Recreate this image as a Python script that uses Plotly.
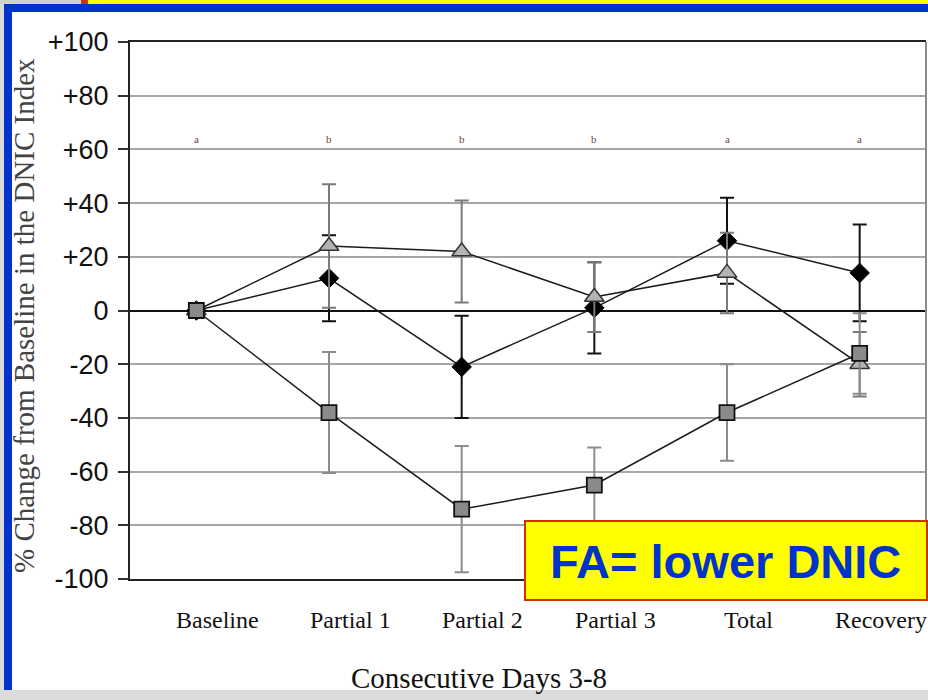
import plotly.graph_objects as go

# Study days on the x axis
days = ["Baseline", "Partial 1", "Partial 2", "Partial 3", "Total", "Recovery"]

# % change from baseline in DNIC index (mean) and error (± SEM) per group
diamond_vals = [0, 12, -21, 1, 26, 14]
diamond_err = [0, 16, 19, 17, 16, 18]

triangle_vals = [0, 24, 22, 5, 14, -20]
triangle_err = [0, 23, 19, 13, 15, 12]

square_vals = [0, -38, -74, -65, -38, -16]
square_err = [0, 22.5, 23.5, 14, 18, 15]

# Significance letters shown above each day
sig_letters = ["a", "b", "b", "b", "a", "a"]
sig_level = 64

y_ticks = [100, 80, 60, 40, 20, 0, -20, -40, -60, -80, -100]
y_tick_text = ["+100", "+80", "+60", "+40", "+20", "0", "-20", "-40", "-60", "-80", "-100"]

W, H = 928, 700
L, R, T, B = 130, 926, 42, 579  # plot-area pixel edges


def px(x):
    return (x - L) / (R - L)


def py(y):
    return (B - y) / (B - T)


fig = go.Figure()

fig.add_trace(go.Scatter(
    x=days, y=diamond_vals, mode="lines+markers",
    line=dict(color="#1a1a1a", width=1.5),
    marker=dict(symbol="diamond", size=15, color="#000000", line=dict(color="#000000", width=1)),
    error_y=dict(type="data", array=diamond_err, color="#111111", thickness=2, width=7),
    showlegend=False,
))
fig.add_trace(go.Scatter(
    x=days, y=triangle_vals, mode="lines+markers",
    line=dict(color="#1a1a1a", width=1.5),
    marker=dict(symbol="triangle-up", size=17, color="#b4b4b4", line=dict(color="#333333", width=1.5)),
    error_y=dict(type="data", array=triangle_err, color="#7a7a7a", thickness=2, width=7),
    showlegend=False,
))
fig.add_trace(go.Scatter(
    x=days, y=square_vals, mode="lines+markers",
    line=dict(color="#1a1a1a", width=1.5),
    marker=dict(symbol="square", size=15, color="#8a8a8a", line=dict(color="#111111", width=1.8)),
    error_y=dict(type="data", array=square_err, color="#8c8c8c", thickness=2, width=7),
    showlegend=False,
))

# significance letters
for d, s in zip(days, sig_letters):
    fig.add_annotation(x=d, y=sig_level, text=s, showarrow=False,
                       font=dict(family="Liberation Serif", size=11, color="#6a4a3a"))

# day labels under the axis (set slightly right of each category)
for d in days:
    fig.add_annotation(x=d, xref="x", yref="paper", y=py(620), text=d, showarrow=False,
                       xanchor="center", yanchor="middle", xshift=21,
                       font=dict(family="Liberation Serif", size=24, color="#111111"))

shapes = []
# darker +20 reference line
shapes.append(dict(type="line", xref="paper", yref="y", x0=0, x1=1, y0=20, y1=20,
                   line=dict(color="#222222", width=1.5), layer="below"))
# right border of plot
shapes.append(dict(type="line", xref="paper", yref="paper", x0=1, x1=1, y0=0, y1=1,
                   line=dict(color="#8a8a8a", width=2)))

# page frame: grey margins, yellow/red strip and blue border
shapes.append(dict(type="rect", xref="paper", yref="paper", x0=px(0), x1=px(4), y0=py(700), y1=py(0),
                   fillcolor="#d9d9d9", line=dict(width=0), layer="below"))
shapes.append(dict(type="rect", xref="paper", yref="paper", x0=px(0), x1=px(928), y0=py(700), y1=py(690),
                   fillcolor="#dcdcdc", line=dict(width=0), layer="below"))
shapes.append(dict(type="rect", xref="paper", yref="paper", x0=px(0), x1=px(81), y0=py(4), y1=py(0),
                   fillcolor="#d0d0d0", line=dict(width=0)))
shapes.append(dict(type="rect", xref="paper", yref="paper", x0=px(81), x1=px(88), y0=py(4), y1=py(0),
                   fillcolor="#cc3300", line=dict(width=0)))
shapes.append(dict(type="rect", xref="paper", yref="paper", x0=px(88), x1=px(928), y0=py(4), y1=py(0),
                   fillcolor="#ffff00", line=dict(width=0)))
shapes.append(dict(type="rect", xref="paper", yref="paper", x0=px(4), x1=px(928), y0=py(12), y1=py(4),
                   fillcolor="#0033cc", line=dict(width=0)))
shapes.append(dict(type="rect", xref="paper", yref="paper", x0=px(4), x1=px(12), y0=py(690), y1=py(4),
                   fillcolor="#0033cc", line=dict(width=0)))

# callout box
shapes.append(dict(type="rect", xref="paper", yref="paper", x0=px(525), x1=px(927), y0=py(600), y1=py(521),
                   fillcolor="#ffff00", line=dict(color="#cc3300", width=2)))

fig.add_annotation(xref="paper", yref="paper", x=px(725), y=py(561), text="<b>FA= lower DNIC</b>",
                   showarrow=False, xanchor="center", yanchor="middle",
                   font=dict(family="Liberation Sans", size=47, color="#0033cc"))

# axis titles
fig.add_annotation(xref="paper", yref="paper", x=px(24), y=py(316), text="% Change from Baseline in the DNIC Index",
                   showarrow=False, textangle=-90, xanchor="center", yanchor="middle",
                   font=dict(family="Liberation Serif", size=29, color="#444444"))
fig.add_annotation(xref="paper", yref="paper", x=px(479), y=py(678), text="Consecutive Days 3-8",
                   showarrow=False, xanchor="center", yanchor="middle",
                   font=dict(family="Liberation Serif", size=29, color="#111111"))

fig.update_layout(
    width=W, height=H,
    margin=dict(l=L, r=W - R, t=T, b=H - B),
    paper_bgcolor="white", plot_bgcolor="white",
    shapes=shapes,
    xaxis=dict(
        range=[-0.5, 5.5], showgrid=False, zeroline=False,
        showline=True, linecolor="#222222", linewidth=2, mirror=True,
        ticks="", showticklabels=False,
    ),
    yaxis=dict(
        range=[-100, 100], tickvals=y_ticks, ticktext=y_tick_text,
        showgrid=True, gridcolor="#a6a6a6", gridwidth=2,
        zeroline=True, zerolinecolor="#111111", zerolinewidth=2,
        showline=True, linecolor="#222222", linewidth=2,
        ticks="outside", ticklen=10, tickcolor="#333333", tickwidth=2,
        ticklabelstandoff=4,
        tickfont=dict(family="Liberation Sans", size=27, color="#111111"),
    ),
)

fig.write_html("out.html")
